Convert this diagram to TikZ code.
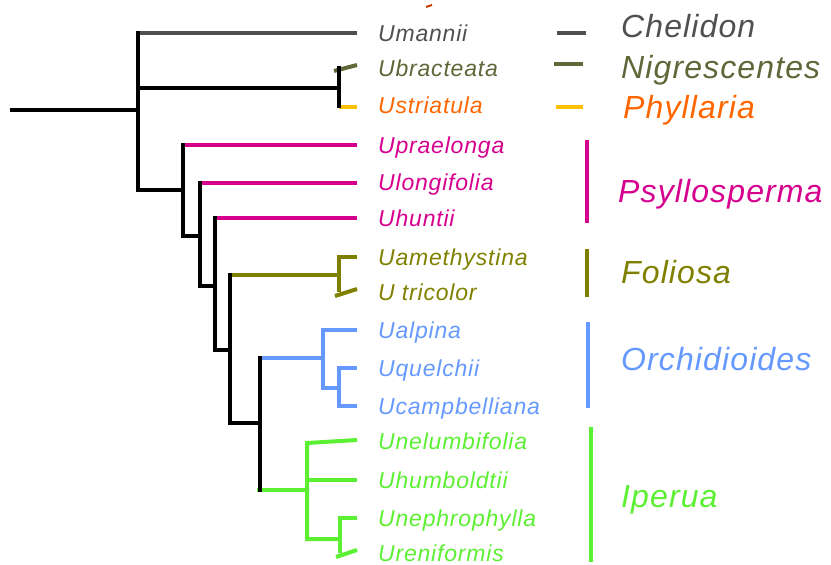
\documentclass[tikz,border=0pt]{standalone}
\usepackage{fontspec}
\setmainfont{Liberation Sans}
\newfontfamily\spacedfont[LetterSpace=3.5]{Liberation Sans}
\definecolor{cgray}{RGB}{80,80,80}
\definecolor{cnigr}{RGB}{95,102,56}
\definecolor{corange}{RGB}{255,102,0}
\definecolor{cyellow}{RGB}{255,192,0}
\definecolor{cmag}{RGB}{214,0,143}
\definecolor{colive}{RGB}{128,128,0}
\definecolor{cblue}{RGB}{102,153,255}
\definecolor{cgreen}{RGB}{92,240,50}
\definecolor{cred}{RGB}{200,60,0}
\begin{document}
\begin{tikzpicture}[x=1pt,y=-1pt,
  br/.style={line width=4pt,line join=miter},
  tip/.style={anchor=base west,inner sep=0pt,font=\spacedfont\fontsize{23}{26}\selectfont\itshape},
  grp/.style={anchor=base west,inner sep=0pt,font=\spacedfont\fontsize{32}{36}\selectfont\itshape},
  bar/.style={line width=4pt}]
\useasboundingbox (0,0) rectangle (831,565);
% stray mark at top
\draw[cred,line width=2pt] (426,7) -- (432,5);
% ---- colored branches (drawn first)
\draw[br,cgray] (138,33) -- (357,33);
\draw[br,cnigr] (334,71) -- (357,65);
\draw[br,cyellow] (339,107) -- (357,107);
\draw[br,cmag] (183,145) -- (357,145);
\draw[br,cmag] (200,183) -- (357,183);
\draw[br,cmag] (215,218) -- (357,218);
\draw[br,colive] (230,275) -- (339,275);
\draw[br,colive] (357,257) -- (339,257) -- (339,292);
\draw[br,colive] (335,296) -- (357,289);
\draw[br,cblue] (260,358) -- (323,358);
\draw[br,cblue] (357,330) -- (323,330) -- (323,388) -- (339,388);
\draw[br,cblue] (357,368) -- (339,368) -- (339,406) -- (357,406);
\draw[br,cgreen] (257,490) -- (307,490);
\draw[br,cgreen] (357,440) -- (307,443) -- (307,539) -- (340,539);
\draw[br,cgreen] (307,480) -- (357,480);
\draw[br,cgreen] (357,518) -- (340,518) -- (340,553);
\draw[br,cgreen] (336,557) -- (357,550);
% ---- black backbone
\draw[br,black] (10,110) -- (138,110);
\draw[br,black] (138,31) -- (138,190) -- (183,190);
\draw[br,black] (138,88) -- (339,88);
\draw[br,black] (339,66) -- (339,108);
\draw[br,black] (183,143) -- (183,236) -- (200,236);
\draw[br,black] (200,181) -- (200,286) -- (215,286);
\draw[br,black] (215,216) -- (215,350) -- (230,350);
\draw[br,black] (230,273) -- (230,423) -- (260,423);
\draw[br,black] (260,356) -- (260,492);
% ---- tip labels
\node[tip,cgray]   (t1)  at (378,41.5) {Umannii};
\node[tip,cnigr]   (t2)  at (378,76.5) {Ubracteata};
\node[tip,corange] (t3)  at (378,113) {Ustriatula};
\node[tip,cmag]    (t4)  at (378,153.5) {Upraelonga};
\node[tip,cmag]    (t5)  at (378,190) {Ulongifolia};
\node[tip,cmag]    (t6)  at (378,226) {Uhuntii};
\node[tip,colive]  (t7)  at (378,265) {Uamethystina};
\node[tip,colive]  (t8)  at (378,300.5) {U tricolor};
\node[tip,cblue]   (t9)  at (378,338) {Ualpina};
\node[tip,cblue]   (t10) at (378,376.5) {Uquelchii};
\node[tip,cblue]   (t11) at (378,414.5) {Ucampbelliana};
\node[tip,cgreen]  (t12) at (378,449) {Unelumbifolia};
\node[tip,cgreen]  (t13) at (378,488.5) {Uhumboldtii};
\node[tip,cgreen]  (t14) at (378,526.5) {Unephrophylla};
\node[tip,cgreen]  (t15) at (378,561) {Ureniformis};
% ---- group bars
\draw[bar,cgray]   (557,33) -- (586,33);
\draw[bar,cnigr]   (554,64) -- (583,64);
\draw[bar,cyellow] (556,107) -- (583,107);
\draw[bar,cmag]    (587,140) -- (587,223);
\draw[bar,colive]  (587,249) -- (587,297);
\draw[bar,cblue]   (588,322) -- (588,408);
\draw[bar,cgreen]  (591,427) -- (591,562);
% ---- group labels
\node[grp,cgray]   (g1) at (621,37.5) {Chelidon};
\node[grp,cnigr]   (g2) at (621,78) {Nigrescentes};
\node[grp,corange] (g3) at (623,118) {Phyllaria};
\node[grp,cmag]    (g4) at (618,202) {Psyllosperma};
\node[grp,colive]  (g5) at (621,283) {Foliosa};
\node[grp,cblue]   (g6) at (621,370) {Orchidioides};
\node[grp,cgreen]  (g7) at (621,507) {Iperua};
\end{tikzpicture}
\end{document}
